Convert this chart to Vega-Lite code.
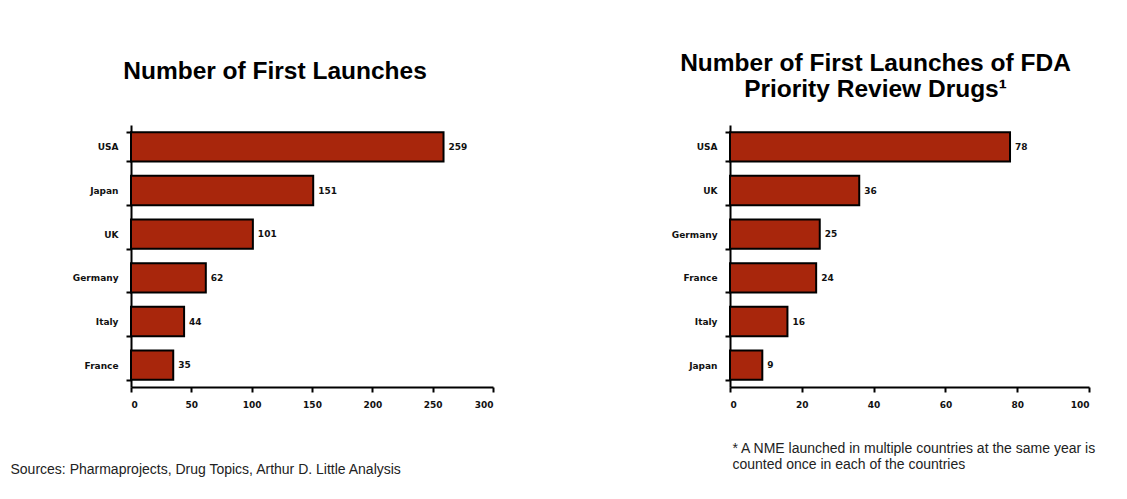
{
  "$schema": "https://vega.github.io/schema/vega-lite/v6.json",
  "autosize": {"type": "none"},
  "padding": {"left": 131, "top": 125, "right": 996, "bottom": 374},
  "background": "white",
  "bounds": "flush",
  "spacing": 237,
  "datasets": {
    "all": [
      {"country": "USA", "launches": 259},
      {"country": "Japan", "launches": 151},
      {"country": "UK", "launches": 101},
      {"country": "Germany", "launches": 62},
      {"country": "Italy", "launches": 44},
      {"country": "France", "launches": 35}
    ],
    "fda": [
      {"country": "USA", "launches": 78},
      {"country": "UK", "launches": 36},
      {"country": "Germany", "launches": 25},
      {"country": "France", "launches": 24},
      {"country": "Italy", "launches": 16},
      {"country": "Japan", "launches": 9}
    ]
  },
  "config": {
    "view": {"stroke": null},
    "font": "Liberation Sans",
    "axis": {
      "grid": false,
      "domainColor": "black",
      "domainWidth": 2,
      "tickColor": "black",
      "tickWidth": 2,
      "tickSize": 5,
      "labelFont": "DejaVu Sans",
      "labelFontWeight": "bold",
      "labelFontSize": 9,
      "labelColor": "#111",
      "labelPadding": 8
    },
    "title": {
      "font": "Liberation Sans",
      "fontWeight": "bold",
      "fontSize": 24.5,
      "color": "black",
      "anchor": "middle",
      "frame": "group"
    }
  },
  "hconcat": [
    {
      "width": 362,
      "height": 262,
      "title": {"text": "Number of First Launches", "dx": -37, "offset": 37},
      "data": {"name": "all"},
      "encoding": {
        "y": {
          "field": "country",
          "type": "nominal",
          "sort": {"field": "launches", "order": "descending"},
          "scale": {"paddingInner": 0.33, "paddingOuter": 0.165},
          "axis": {"title": null, "tickBand": "extent"}
        },
        "x": {
          "field": "launches",
          "type": "quantitative",
          "scale": {"domain": [0, 300], "nice": false},
          "axis": {
            "values": [0, 50, 100, 150, 200, 250, 300],
            "title": "Sources:  Pharmaprojects, Drug Topics,  Arthur D. Little Analysis",
            "titleFont": "Liberation Sans",
            "titleFontWeight": "normal",
            "titleFontSize": 14,
            "titleColor": "#222",
            "titleAnchor": "start",
            "titleAlign": "left",
            "titleBaseline": "alphabetic",
            "titleX": -121,
            "titleY": 86
          }
        }
      },
      "layer": [
        {"mark": {"type": "bar", "color": "#A8260C", "stroke": "black", "strokeWidth": 2}},
        {
          "mark": {"type": "text", "align": "left", "baseline": "middle", "dx": 5, "font": "DejaVu Sans", "fontSize": 9, "fontWeight": "bold", "color": "#111"},
          "encoding": {"text": {"field": "launches", "type": "quantitative"}}
        }
      ]
    },
    {
      "width": 359,
      "height": 262,
      "title": {
        "text": ["Number of First Launches of FDA", "Priority Review Drugs¹"],
        "dx": -34,
        "offset": 19,
        "lineHeight": 26
      },
      "data": {"name": "fda"},
      "encoding": {
        "y": {
          "field": "country",
          "type": "nominal",
          "sort": {"field": "launches", "order": "descending"},
          "scale": {"paddingInner": 0.33, "paddingOuter": 0.165},
          "axis": {"title": null, "tickBand": "extent"}
        },
        "x": {
          "field": "launches",
          "type": "quantitative",
          "scale": {"domain": [0, 100], "nice": false},
          "axis": {
            "values": [0, 20, 40, 60, 80, 100],
            "title": ["* A NME launched in multiple countries at the same year is", "counted once in each of the countries"],
            "titleFont": "Liberation Sans",
            "titleFontWeight": "normal",
            "titleFontSize": 14,
            "titleColor": "#222",
            "titleAnchor": "start",
            "titleAlign": "left",
            "titleBaseline": "alphabetic",
            "titleLineHeight": 16,
            "titleX": 2,
            "titleY": 65
          }
        }
      },
      "layer": [
        {"mark": {"type": "bar", "color": "#A8260C", "stroke": "black", "strokeWidth": 2}},
        {
          "mark": {"type": "text", "align": "left", "baseline": "middle", "dx": 5, "font": "DejaVu Sans", "fontSize": 9, "fontWeight": "bold", "color": "#111"},
          "encoding": {"text": {"field": "launches", "type": "quantitative"}}
        }
      ]
    }
  ]
}
